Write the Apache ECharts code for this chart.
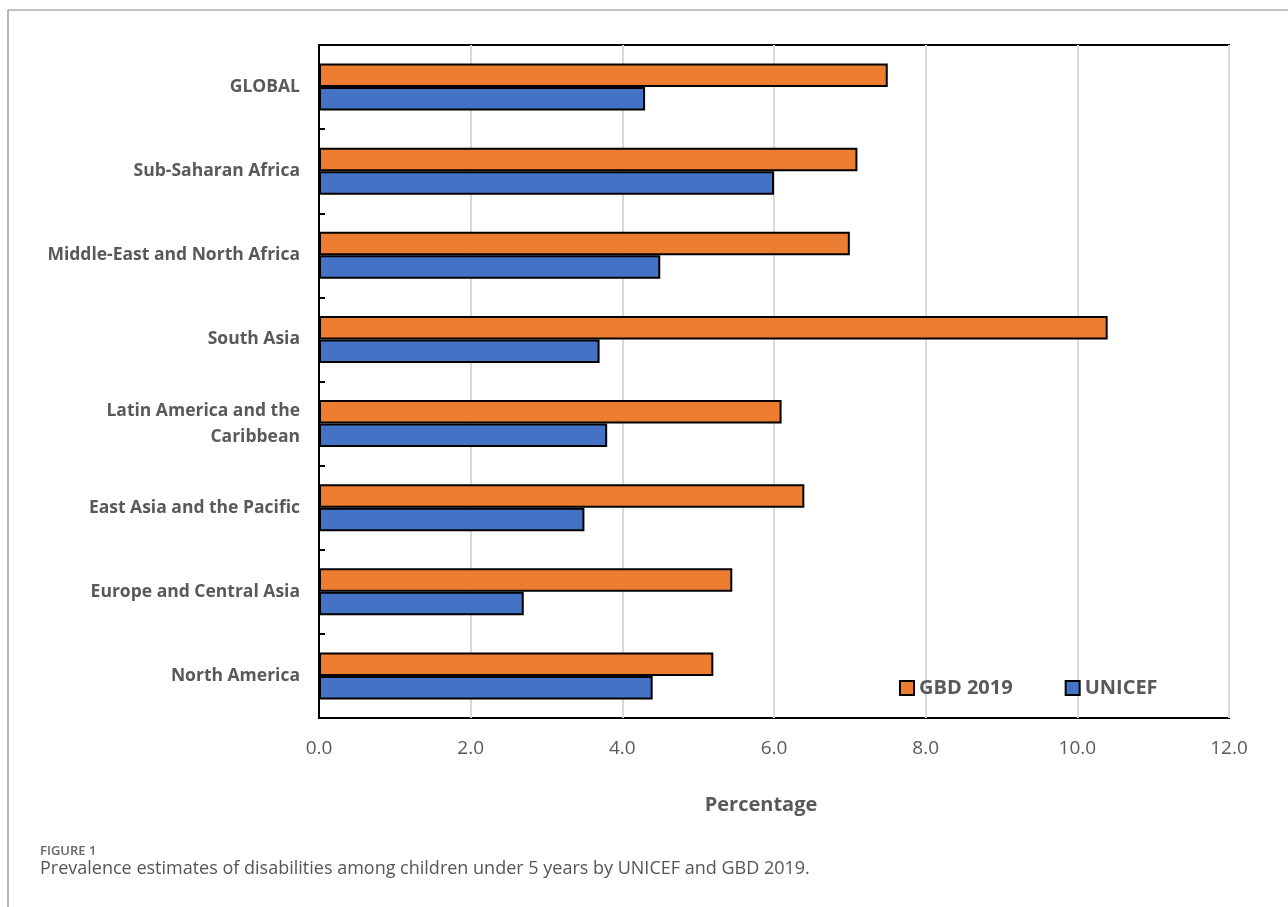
<!DOCTYPE html>
<html>
<head>
<meta charset="utf-8">
<script src="https://cdn.jsdelivr.net/npm/echarts@6/dist/echarts.min.js"></script>
<style>
  html, body { margin: 0; padding: 0; background: #ffffff; }
  #chart { width: 1288px; height: 907px; }
</style>
</head>
<body>
<div id="chart"></div>
<script>
// regions, top to bottom
const regions = [
  'GLOBAL',
  'Sub-Saharan Africa',
  'Middle-East and North Africa',
  'South Asia',
  'Latin America and the\nCaribbean',
  'East Asia and the Pacific',
  'Europe and Central Asia',
  'North America'
]
// prevalence (%)
const gbd2019 = [7.5, 7.1, 7.0, 10.4, 6.1, 6.4, 5.45, 5.2]
const unicef = [4.3, 6.0, 4.5, 3.7, 3.8, 3.5, 2.7, 4.4]
const xTicks = [0, 2, 4, 6, 8, 10, 12]

const gray = '#595959'
const font = '"Open Sans", "Liberation Sans", sans-serif'

let chart = echarts.init(document.getElementById('chart'))

let option = {
  backgroundColor: '#ffffff',
  animation: false,
  textStyle: { fontFamily: font },
  grid: {
    left: 319,
    right: 59,
    top: 45,
    bottom: 189,
    show: true,
    borderColor: '#000000',
    borderWidth: 2,
    outerBoundsMode: 'none'
  },
  legend: {
    left: 894,
    top: 673,
    itemWidth: 14,
    itemHeight: 14,
    itemGap: 52,
    icon: 'rect',
    data: ['GBD 2019', 'UNICEF'],
    textStyle: { fontFamily: font, fontSize: 20, fontWeight: 'bold', color: gray }
  },
  xAxis: {
    type: 'value',
    min: xTicks[0],
    max: xTicks[xTicks.length - 1],
    interval: 2,
    name: 'Percentage',
    nameLocation: 'middle',
    nameGap: 77,
    nameTextStyle: { fontFamily: font, fontSize: 20, fontWeight: 'bold', color: gray, padding: [0, 26, 0, 0] },
    axisLine: { show: false },
    axisTick: { show: false },
    axisLabel: {
      margin: 21,
      fontSize: 19,
      color: gray,
      formatter: v => v.toFixed(1)
    },
    splitLine: { show: true, lineStyle: { color: '#d9d9d9', width: 2 } }
  },
  yAxis: {
    type: 'category',
    inverse: true,
    data: regions,
    axisLine: { show: true, lineStyle: { color: '#000000', width: 2 } },
    axisTick: { show: true, inside: true, length: 6, lineStyle: { color: '#000000', width: 2 } },
    axisLabel: {
      margin: 19,
      fontSize: 17.5,
      fontWeight: 'bold',
      color: gray,
      lineHeight: 26,
      align: 'right'
    }
  },
  series: [
    {
      name: 'GBD 2019',
      type: 'bar',
      data: gbd2019,
      barGap: '0%',
      barCategoryGap: '44%',
      itemStyle: { color: '#ED7D31', borderColor: '#000000', borderWidth: 2 }
    },
    {
      name: 'UNICEF',
      type: 'bar',
      data: unicef,
      itemStyle: { color: '#4472C4', borderColor: '#000000', borderWidth: 2 }
    }
  ],
  graphic: [
    // figure frame (top and left edges)
    {
      type: 'polyline',
      shape: { points: [[8, 907], [8, 10], [1288, 10]] },
      style: { stroke: '#888888', lineWidth: 1.2, fill: null }
    },
    {
      type: 'text',
      left: 40,
      top: 845,
      style: { text: 'FIGURE 1', fontFamily: font, fontSize: 13, fontWeight: 600, fill: '#666666' }
    },
    {
      type: 'text',
      left: 40,
      top: 860,
      style: {
        text: 'Prevalence estimates of disabilities among children under 5 years by UNICEF and GBD 2019.',
        fontFamily: font, fontSize: 18, fill: '#555555'
      }
    }
  ]
}

chart.setOption(option)
</script>
</body>
</html>
